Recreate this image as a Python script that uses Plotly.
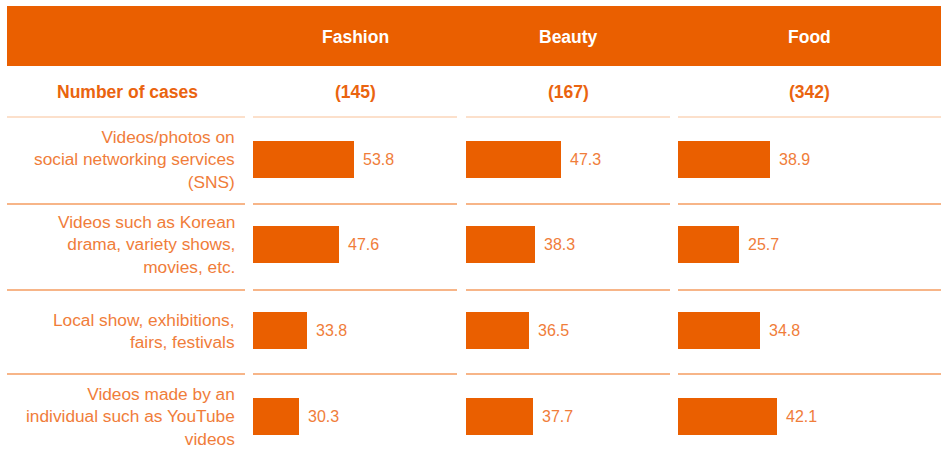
import plotly.graph_objects as go

# ---- data ----
columns = ["Fashion", "Beauty", "Food"]
case_counts = ["(145)", "(167)", "(342)"]
categories = [
    "Videos/photos on<br>social networking services<br>(SNS)",
    "Videos such as Korean<br>drama, variety shows,<br>movies, etc.",
    "Local show, exhibitions,<br>fairs, festivals",
    "Videos made by an<br>individual such as YouTube<br>videos",
]
fashion = [53.8, 47.6, 33.8, 30.3]
beauty = [47.3, 38.3, 36.5, 37.7]
food = [38.9, 25.7, 34.8, 42.1]
series = [fashion, beauty, food]

# ---- styling / layout ----
W, H = 941, 457
ORANGE = "#EA5F00"
TEXT = "#F07D3A"
BOLD = "#EA640F"
LIGHT = "#FBD6BA"
LINE = "#F59C60"
FONT = "Liberation Sans, Arial, sans-serif"

def px(x):
    return x / W

def py(y):
    return 1 - y / H

col_px = [(253, 457), (466, 670), (678, 941)]
axis_px = [(253, 457), (466, 670), (678, 882)]
ranges = [[11, 97.4], [15, 84.2], [0, 86.4]]
centers = [355, 568, 809.5]

fig = go.Figure()
for i, vals in enumerate(series):
    xa = "x" if i == 0 else f"x{i+1}"
    fig.add_trace(go.Bar(
        x=vals, y=categories, orientation="h", xaxis=xa, yaxis="y",
        marker=dict(color=ORANGE, line=dict(width=0)), width=0.43,
        showlegend=False, hoverinfo="skip",
    ))

layout = dict(
    width=W, height=H, margin=dict(l=0, r=0, t=0, b=0),
    paper_bgcolor="white", plot_bgcolor="rgba(0,0,0,0)",
    font=dict(family=FONT, color=TEXT),
    yaxis=dict(domain=[0, py(117)], range=[3.47, -0.49], visible=False,
               showgrid=False, zeroline=False),
    bargap=0,
)
for i in range(3):
    key = "xaxis" if i == 0 else f"xaxis{i+1}"
    layout[key] = dict(domain=[px(axis_px[i][0]), px(axis_px[i][1])],
                       range=ranges[i], visible=False, showgrid=False,
                       zeroline=False, anchor="y")
fig.update_layout(**layout)

shapes = []
# header band
shapes.append(dict(type="rect", xref="paper", yref="paper",
                   x0=px(7), x1=px(941), y0=py(66), y1=py(6),
                   fillcolor=ORANGE, line=dict(width=0), layer="below"))
# row separators
segments = [(7, 245)] + col_px
for yline, color in [(117, LIGHT), (204, LINE), (290, LINE), (374, LINE)]:
    for (a, b) in segments:
        shapes.append(dict(type="line", xref="paper", yref="paper",
                           x0=px(a), x1=px(b), y0=py(yline), y1=py(yline),
                           line=dict(color=color, width=1.6)))
fig.update_layout(shapes=shapes)

ann = []
for i, name in enumerate(columns):
    ann.append(dict(text=f"<b>{name}</b>", x=px(centers[i]), y=py(37),
                    xref="paper", yref="paper", showarrow=False,
                    xanchor="center", yanchor="middle",
                    font=dict(size=17.5, color="white", family=FONT)))
    ann.append(dict(text=f"<b>{case_counts[i]}</b>", x=px(centers[i]), y=py(92),
                    xref="paper", yref="paper", showarrow=False,
                    xanchor="center", yanchor="middle",
                    font=dict(size=17.5, color=BOLD, family=FONT)))
ann.append(dict(text="<b>Number of cases</b>", x=px(128), y=py(92),
                xref="paper", yref="paper", showarrow=False,
                xanchor="center", yanchor="middle",
                font=dict(size=17.5, color=BOLD, family=FONT)))
for cat in categories:
    ann.append(dict(text=cat, x=px(237), y=cat, xref="paper", yref="y",
                    xanchor="right", yanchor="middle", align="right",
                    showarrow=False,
                    font=dict(size=17.3, color=TEXT, family=FONT)))
for i, vals in enumerate(series):
    xa = "x" if i == 0 else f"x{i+1}"
    for cat, v in zip(categories, vals):
        ann.append(dict(text=f"{v:.1f}", x=v, y=cat, xref=xa, yref="y",
                        xanchor="left", yanchor="middle", xshift=7,
                        showarrow=False,
                        font=dict(size=16, color=TEXT, family=FONT)))
fig.update_layout(annotations=ann)

fig.write_html("out.html", config={"displayModeBar": False},
               post_script="document.body.style.margin='0px';document.body.style.overflow='hidden';")
